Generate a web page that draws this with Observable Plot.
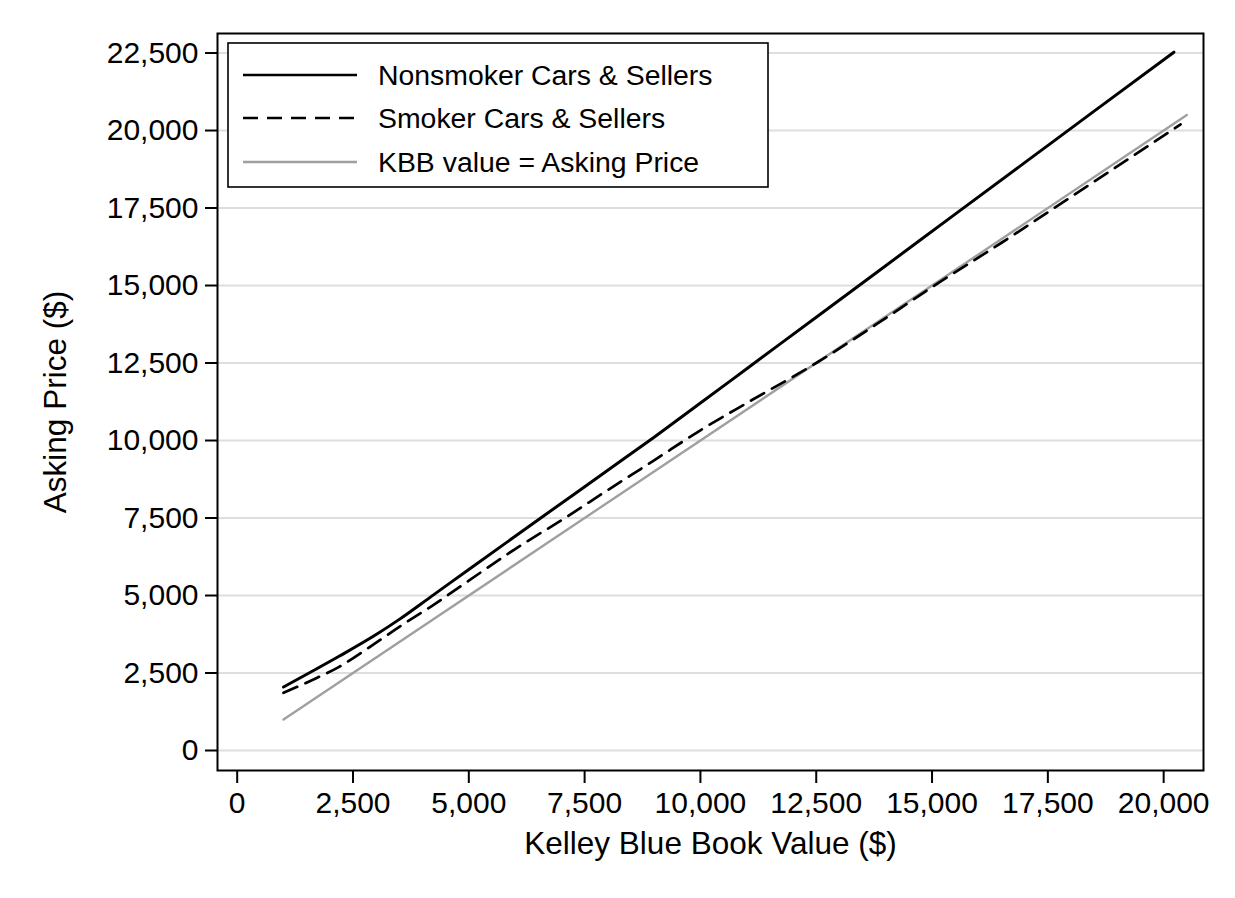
<!DOCTYPE html>
<html>
<head>
<meta charset="utf-8">
<script src="https://cdn.jsdelivr.net/npm/d3@7"></script>
<script src="https://cdn.jsdelivr.net/npm/@observablehq/plot@0.6"></script>
<style>
  html, body { margin: 0; padding: 0; background: #fff; }
  svg { font-family: "Liberation Sans", Arial, Helvetica, sans-serif; }
</style>
</head>
<body>
<div id="chart"></div>
<script>
// ---- data ----
const nonsmokerKbb   = [1000, 1600, 2200, 3000, 3500, 4200, 5000, 6500, 8000, 9000, 10000, 11000, 12500, 14000, 15500, 17000, 18500, 20221];
const nonsmokerPrice = [2050, 2540, 3040, 3740, 4230, 4980, 5840, 7445, 9040, 10108, 11208, 12316, 13978, 15640, 17302, 18964, 20626, 22527];

const smokerKbb   = [1000, 1600, 2200, 3000, 3500, 4200, 5000, 6000, 7000, 8000, 9000, 10000, 11000, 12500, 14000, 15000, 16500, 18000, 20366];
const smokerPrice = [1860, 2260, 2700, 3480, 3990, 4660, 5480, 6500, 7430, 8400, 9360, 10330, 11210, 12500, 13950, 14950, 16380, 17860, 20195];

const identityKbb   = [1000, 20500];
const identityPrice = [1000, 20500];

const xTicks = [0, 2500, 5000, 7500, 10000, 12500, 15000, 17500, 20000];
const yTicks = [0, 2500, 5000, 7500, 10000, 12500, 15000, 17500, 20000, 22500];

const seriesNames = ["Nonsmoker Cars & Sellers", "Smoker Cars & Sellers", "KBB value = Asking Price"];
const xTitle = "Kelley Blue Book Value ($)";
const yTitle = "Asking Price ($)";

// ---- tables ----
const nonsmoker = nonsmokerKbb.map((x, i) => ({x, y: nonsmokerPrice[i]}));
const smoker = smokerKbb.map((x, i) => ({x, y: smokerPrice[i]}));
const identity = identityKbb.map((x, i) => ({x, y: identityPrice[i]}));

const fmt = d3.format(",");

const chart = Plot.plot({
  width: 1235,
  height: 898,
  marginLeft: 217,
  marginRight: 32,
  marginTop: 33,
  marginBottom: 128,
  style: {fontFamily: "Liberation Sans, Arial, Helvetica, sans-serif", background: "#fff", color: "#000"},
  x: {domain: [-425, 20860], label: null},
  y: {domain: [-645, 23130], label: null},
  marks: [
    Plot.gridY(yTicks, {stroke: "#dedede", strokeOpacity: 1, strokeWidth: 2}),
    Plot.line(identity, {x: "x", y: "y", stroke: "#a0a0a0", strokeWidth: 2.4}),
    Plot.line(smoker, {x: "x", y: "y", stroke: "#000", strokeWidth: 2.7, strokeDasharray: "15,9", curve: "monotone-x"}),
    Plot.line(nonsmoker, {x: "x", y: "y", stroke: "#000", strokeWidth: 3, curve: "monotone-x"}),
    Plot.frame({stroke: "#000", strokeWidth: 2}),
    Plot.axisY(yTicks, {anchor: "left", tickSize: 12, tickPadding: 7, tickFormat: fmt, fontSize: 30, strokeWidth: 2, label: null}),
    Plot.axisX(xTicks, {anchor: "bottom", tickSize: 13, tickPadding: 8, tickFormat: fmt, fontSize: 30, strokeWidth: 2, label: null}),
    Plot.text([yTitle], {frameAnchor: "left", dx: -162, rotate: -90, textAnchor: "middle", lineAnchor: "middle", fontSize: 31.5, fill: "#000"}),
    Plot.text([xTitle], {frameAnchor: "bottom", dy: 73, textAnchor: "middle", lineAnchor: "middle", fontSize: 31.5, fill: "#000"})
  ]
});

document.getElementById("chart").appendChild(chart);

// ---- legend inside frame ----
const svg = d3.select(chart);
const lg = svg.append("g").attr("class", "legend").attr("text-anchor", "start");
lg.append("rect").attr("x", 228).attr("y", 43).attr("width", 540).attr("height", 144)
  .attr("fill", "#fff").attr("stroke", "#000").attr("stroke-width", 1.6);
const styles = [
  {stroke: "#000", width: 2.7, dash: null},
  {stroke: "#000", width: 2.6, dash: "15,9"},
  {stroke: "#a0a0a0", width: 2.4, dash: null}
];
const rowsY = [75, 118, 162];
seriesNames.forEach((name, i) => {
  const l = lg.append("line").attr("x1", 243).attr("x2", 357).attr("y1", rowsY[i]).attr("y2", rowsY[i])
    .attr("stroke", styles[i].stroke).attr("stroke-width", styles[i].width);
  if (styles[i].dash) l.attr("stroke-dasharray", styles[i].dash);
  lg.append("text").attr("x", 378).attr("y", rowsY[i]).attr("dy", "0.35em")
    .attr("text-anchor", "start").attr("font-size", 28.4).attr("fill", "#000").text(name);
});
</script>
</body>
</html>
